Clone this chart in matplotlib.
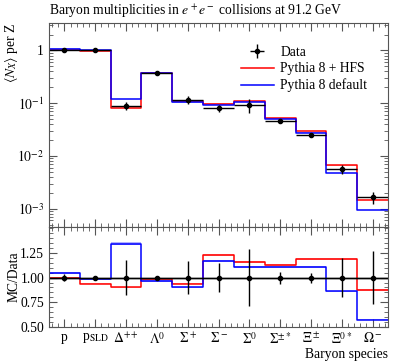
import numpy as np
import matplotlib
matplotlib.use('Agg')
import matplotlib.pyplot as plt
from matplotlib.ticker import FixedLocator, MultipleLocator, FuncFormatter

plt.rcParams['font.family'] = ['Liberation Serif', 'DejaVu Serif']
plt.rcParams['mathtext.fontset'] = 'stix'

species = ['p', r'p$_{\mathrm{SLD}}$', r'$\Delta^{++}$', r'$\Lambda^0$', r'$\Sigma^+$', r'$\Sigma^-$',
           r'$\Sigma^0$', r'$\Sigma^{\pm *}$', r'$\Xi^\pm$', r'$\Xi^{0 *}$', r'$\Omega^-$']
data = [1.03, 1.04, 0.0895, 0.381, 0.115, 0.080, 0.094, 0.046, 0.025, 0.0056, 0.00166]
rel_err = [0.035, 0.02, 0.18, 0.012, 0.17, 0.145, 0.29, 0.06, 0.05, 0.2, 0.27]
ratio_hfs = [1.0, 0.94, 0.90, 0.99, 0.94, 1.225, 1.16, 1.13, 1.19, 1.19, 0.875]
ratio_def = [1.05, 0.983, 1.343, 0.967, 0.90, 1.167, 1.11, 1.11, 1.11, 0.86, 0.575]
mc_rel_err = [0.01] * 11

data = np.array(data)
rel_err = np.array(rel_err)
n = len(data)
x = np.arange(1, n + 1)
edges = np.arange(0.5, n + 1.0, 1.0)
mc_hfs = data * np.array(ratio_hfs)
mc_def = data * np.array(ratio_def)

fig = plt.figure(figsize=(4.0, 3.61), dpi=100)
ax = fig.add_axes([0.1225, 0.371, 0.8475, 0.565])
axr = fig.add_axes([0.1225, 0.094, 0.8475, 0.277], sharex=ax)

frame_col = '#555555'
fs = 9.8


def step(axis, vals, color, err=None):
    v = np.append(vals, vals[-1])
    if err is not None:
        e = np.append(err, err[-1])
        axis.fill_between(edges, v * (1 - e), v * (1 + e), step='post', color=color, alpha=0.3, lw=0)
    return axis.step(edges, v, where='post', color=color, lw=1.1)[0]


l_hfs = step(ax, mc_hfs, 'red', np.array(mc_rel_err))
l_def = step(ax, mc_def, 'blue', np.array(mc_rel_err))
eb = ax.errorbar(x, data, xerr=0.5, yerr=data * rel_err, fmt='o', color='black', ms=3, lw=1.0,
                 capsize=0)

ax.set_yscale('log')
ax.set_ylim(4.5e-4, 3.3)
ax.set_xlim(0.5, n + 0.5)


def logfmt(v, pos):
    if abs(v - 1) < 1e-9:
        return '1'
    return r'$10^{%d}$' % int(round(np.log10(v)))


ax.yaxis.set_major_formatter(FuncFormatter(logfmt))
ax.set_ylabel(r'$\langle N_X\rangle$ per Z', fontsize=fs, loc='top')
ax.yaxis.set_label_coords(-0.085, 1.0)
ax.set_title(r'Baryon multiplicities in $e^+e^-$ collisions at 91.2 GeV', fontsize=fs, loc='left', pad=6)
ax.legend([eb, l_hfs, l_def], ['Data', 'Pythia 8 + HFS', 'Pythia 8 default'],
          loc='upper left', fontsize=fs, frameon=False, handlelength=2.4,
          bbox_to_anchor=(0.55, 0.915), borderaxespad=0.0, labelspacing=0.25, handletextpad=0.5)
plt.setp(ax.get_xticklabels(), visible=False)

# ratio panel
step(axr, np.array(ratio_hfs), 'red', np.array(mc_rel_err))
step(axr, np.array(ratio_def), 'blue', np.array(mc_rel_err))
axr.axhline(1.0, color='black', lw=1.0)
axr.errorbar(x, np.ones(n), xerr=0.5, yerr=rel_err, fmt='o', color='black', ms=3, lw=1.0, capsize=0)
axr.set_ylim(0.5, 1.51)
axr.yaxis.set_major_locator(FixedLocator([0.5, 0.75, 1.0, 1.25]))
axr.yaxis.set_minor_locator(MultipleLocator(0.05))
axr.yaxis.set_major_formatter(FuncFormatter(lambda v, p: '%.2f' % v))
axr.set_ylabel('MC/Data', fontsize=fs)
axr.yaxis.set_label_coords(-0.085, 0.5)
axr.set_xticks(x)
axr.set_xticklabels(species)
axr.xaxis.set_minor_locator(MultipleLocator(0.2))
axr.set_xlabel('Baryon species', fontsize=fs, loc='right', labelpad=1)

for a in (ax, axr):
    a.tick_params(which='both', direction='in', top=True, right=True, colors=frame_col,
                  labelcolor='black', labelsize=fs)
    a.tick_params(which='major', length=6)
    a.tick_params(which='minor', length=3)
    for s in a.spines.values():
        s.set_color(frame_col)
axr.tick_params(axis='x', which='major', pad=3)

fig.savefig('out.png', dpi=100)
